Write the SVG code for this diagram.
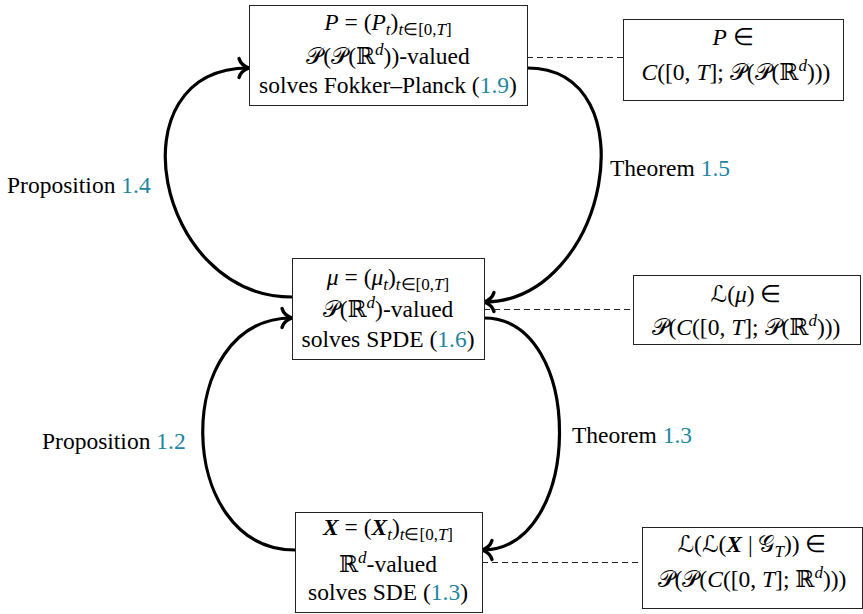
<svg xmlns="http://www.w3.org/2000/svg" width="863" height="614" viewBox="0 0 863 614">
<style>
.t{font-family:"Liberation Serif","Times New Roman",serif;font-size:23.5px;fill:#000;}
.i{font-style:italic;}
.b{font-style:italic;font-weight:bold;}
.s{font-size:17px;}
.c{fill:#20869f;}
.k{font-family:"DejaVu Serif","DejaVu Sans","Noto Sans",serif;font-size:23px;}
.box{fill:#fff;stroke:#222;stroke-width:1;}
.arc{fill:none;stroke:#000;stroke-width:3.2;}
.dash{fill:none;stroke:#222;stroke-width:1;stroke-dasharray:6 4;}
</style>
<defs>
<marker id="ah" markerUnits="userSpaceOnUse" markerWidth="26" markerHeight="26" viewBox="-13 -13 26 26" refX="0" refY="0" orient="auto">
<path d="M-10,-9.5 C-8,-3 -3,-1 0,0 C-3,1 -8,3 -10,9.5" fill="none" stroke="#000" stroke-width="3.4" stroke-linecap="round"/>
</marker>
</defs>
<g id="connectors">
<path class="arc" d="M292,297 C155,297 112,68 249,68" marker-end="url(#ah)"/>
<path class="arc" d="M527,68 C651,68 608,302 484,302" marker-end="url(#ah)"/>
<path class="arc" d="M295,550 C174,550 171,318 292,318" marker-end="url(#ah)"/>
<path class="arc" d="M484,318 C586,318 584,550 482,550" marker-end="url(#ah)"/>
<line class="dash" x1="527" y1="57.5" x2="623" y2="57.5"/>
<line class="dash" x1="484" y1="309.5" x2="633" y2="309.5"/>
<line class="dash" x1="482" y1="562.5" x2="642" y2="562.5"/>
<text class="t" x="7" y="193">Proposition <tspan class="c">1.4</tspan></text>
<text class="t" x="610" y="176">Theorem <tspan class="c">1.5</tspan></text>
<text class="t" x="42" y="449">Proposition <tspan class="c">1.2</tspan></text>
<text class="t" x="572" y="443">Theorem <tspan class="c">1.3</tspan></text>
</g>
<g id="nodeP">
<rect class="box" x="249.5" y="5.5" width="278" height="100"/>
<text class="t" x="388" y="30" text-anchor="middle"><tspan class="i">P</tspan> = (<tspan class="i">P</tspan><tspan class="s i" dy="5">t</tspan><tspan dy="-5">)</tspan><tspan class="s" dy="5"><tspan class="i">t</tspan>∈[0,<tspan class="i">T</tspan>]</tspan></text>
<text class="t" x="388" y="64" text-anchor="middle"><tspan class="k">𝒫</tspan>(<tspan class="k">𝒫</tspan>(<tspan class="k">ℝ</tspan><tspan class="s i" dy="-9">d</tspan><tspan dy="9">))-valued</tspan></text>
<text class="t" x="388" y="93" text-anchor="middle">solves Fokker–Planck (<tspan class="c">1.9</tspan>)</text>
</g>
<g id="nodePspace">
<rect class="box" x="623.5" y="19.5" width="220" height="81"/>
<text class="t" x="733" y="45" text-anchor="middle"><tspan class="i">P</tspan> ∈</text>
<text class="t" x="736" y="80" text-anchor="middle"><tspan class="i">C</tspan>([0, <tspan class="i">T</tspan>]; <tspan class="k">𝒫</tspan>(<tspan class="k">𝒫</tspan>(<tspan class="k">ℝ</tspan><tspan class="s i" dy="-9">d</tspan><tspan dy="9">)))</tspan></text>
</g>
<g id="nodeMu">
<rect class="box" x="292.5" y="258.5" width="192" height="101"/>
<text class="t" x="388" y="285" text-anchor="middle"><tspan class="i">μ</tspan> = (<tspan class="i">μ</tspan><tspan class="s i" dy="5">t</tspan><tspan dy="-5">)</tspan><tspan class="s" dy="5"><tspan class="i">t</tspan>∈[0,<tspan class="i">T</tspan>]</tspan></text>
<text class="t" x="388" y="317" text-anchor="middle"><tspan class="k">𝒫</tspan>(<tspan class="k">ℝ</tspan><tspan class="s i" dy="-9">d</tspan><tspan dy="9">)-valued</tspan></text>
<text class="t" x="388" y="347" text-anchor="middle">solves SPDE (<tspan class="c">1.6</tspan>)</text>
</g>
<g id="nodeMuspace">
<rect class="box" x="633.5" y="275.5" width="227" height="69"/>
<text class="t" x="746" y="302" text-anchor="middle"><tspan class="k">ℒ</tspan>(<tspan class="i">μ</tspan>) ∈</text>
<text class="t" x="746" y="335" text-anchor="middle"><tspan class="k">𝒫</tspan>(<tspan class="i">C</tspan>([0, <tspan class="i">T</tspan>]; <tspan class="k">𝒫</tspan>(<tspan class="k">ℝ</tspan><tspan class="s i" dy="-9">d</tspan><tspan dy="9">)))</tspan></text>
</g>
<g id="nodeX">
<rect class="box" x="295.5" y="512.5" width="187" height="100"/>
<text class="t" x="388" y="535" text-anchor="middle"><tspan class="b">X</tspan> = (<tspan class="b">X</tspan><tspan class="s i" dy="5">t</tspan><tspan dy="-5">)</tspan><tspan class="s" dy="5"><tspan class="i">t</tspan>∈[0,<tspan class="i">T</tspan>]</tspan></text>
<text class="t" x="388" y="572" text-anchor="middle"><tspan class="k">ℝ</tspan><tspan class="s i" dy="-9">d</tspan><tspan dy="9">-valued</tspan></text>
<text class="t" x="388" y="600" text-anchor="middle">solves SDE (<tspan class="c">1.3</tspan>)</text>
</g>
<g id="nodeXspace">
<rect class="box" x="642.5" y="527.5" width="220" height="81"/>
<text class="t" x="752" y="552" text-anchor="middle"><tspan class="k">ℒ</tspan>(<tspan class="k">ℒ</tspan>(<tspan class="b">X</tspan> | <tspan class="k">𝒢</tspan><tspan class="s i" dy="5">T</tspan><tspan dy="-5">)) ∈</tspan></text>
<text class="t" x="752" y="587" text-anchor="middle"><tspan class="k">𝒫</tspan>(<tspan class="k">𝒫</tspan>(<tspan class="i">C</tspan>([0, <tspan class="i">T</tspan>]; <tspan class="k">ℝ</tspan><tspan class="s i" dy="-9">d</tspan><tspan dy="9">)))</tspan></text>
</g>
</svg>
